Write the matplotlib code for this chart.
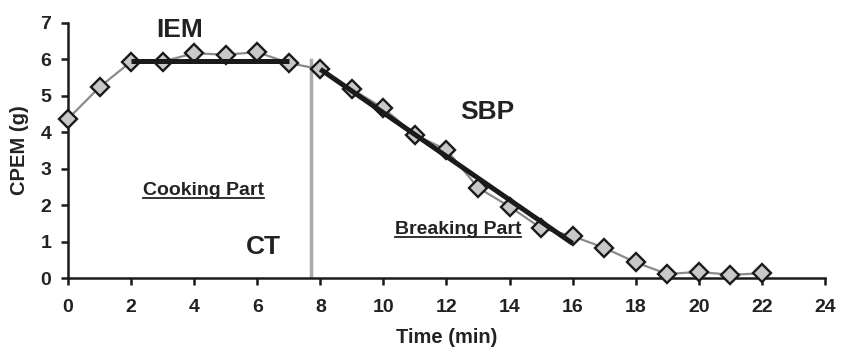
import matplotlib.pyplot as plt

plt.rcParams['font.family'] = ['Liberation Sans', 'DejaVu Sans']
plt.rcParams['font.weight'] = 'bold'

# measured CPEM values
time_min = [0, 1, 2, 3, 4, 5, 6, 7, 8, 9, 10, 11, 12, 13, 14, 15, 16, 17, 18, 19, 20, 21, 22]
cpem_g = [4.37, 5.24, 5.94, 5.94, 6.17, 6.13, 6.20, 5.90, 5.73, 5.18, 4.66, 3.93, 3.52,
          2.48, 1.96, 1.37, 1.15, 0.83, 0.43, 0.11, 0.17, 0.09, 0.13]

# fitted segments
iem_x = [2, 7]
iem_y = [5.96, 5.96]
sbp_x = [8, 16]
sbp_y = [5.73, 0.95]

# cooking time separator
ct_x = 7.7
ct_top = 5.99

fig = plt.figure(figsize=(8.47, 3.48), dpi=100)
ax = fig.add_axes([0.0803, 0.201, 0.8937, 0.733])

ax.plot(time_min, cpem_g, color='#8a8a8a', linewidth=1.6, marker='D', markersize=9,
        markerfacecolor='#c8c8c8', markeredgecolor='#1a1a1a', markeredgewidth=1.7,
        clip_on=False, zorder=3)
ax.plot(iem_x, iem_y, color='#1a1a1a', linewidth=3.6, zorder=4, solid_capstyle='butt')
ax.plot(sbp_x, sbp_y, color='#1a1a1a', linewidth=3.6, zorder=4, solid_capstyle='butt')
ax.plot([ct_x, ct_x], [0, ct_top], color='#aaaaaa', linewidth=2.5, zorder=2)

txt = '#222222'
ax.text(3.55, 6.82, 'IEM', fontsize=19, fontweight='bold', color=txt, ha='center', va='center')
ax.text(13.28, 4.56, 'SBP', fontsize=19, fontweight='bold', color=txt, ha='center', va='center')
ax.text(6.18, 0.85, 'CT', fontsize=19, fontweight='bold', color=txt, ha='center', va='center')
parts = [ax.text(4.31, 2.29, 'Cooking Part', fontsize=14, fontweight='bold', color=txt,
                 ha='center', va='baseline'),
         ax.text(12.37, 1.20, 'Breaking Part', fontsize=14, fontweight='bold', color=txt,
                 ha='center', va='baseline')]

ax.set_xlim(0, 24)
ax.set_ylim(0, 7)
ax.set_xticks(range(0, 25, 2))
ax.set_yticks(range(0, 8))
ax.set_xlabel('Time (min)', fontsize=14.5, fontweight='bold', color=txt, labelpad=9)
ax.set_ylabel('CPEM (g)', fontsize=14.5, fontweight='bold', color=txt, labelpad=8)

for s in ['top', 'right']:
    ax.spines[s].set_visible(False)
for s in ['left', 'bottom']:
    ax.spines[s].set_linewidth(1.8)
    ax.spines[s].set_color('#1a1a1a')

ax.tick_params(axis='both', direction='out', length=5, width=1.8, colors='#1a1a1a',
               labelsize=14, labelcolor=txt)
ax.tick_params(axis='x', pad=10)
ax.tick_params(axis='y', pad=7)
for lab in ax.get_xticklabels() + ax.get_yticklabels():
    lab.set_fontweight('bold')

# underline the part labels
fig.canvas.draw()
renderer = fig.canvas.get_renderer()
inv = ax.transData.inverted()
for t in parts:
    bb = t.get_window_extent(renderer)
    x0, _ = inv.transform((bb.x0, 0))
    x1, _ = inv.transform((bb.x1, 0))
    _, yb = ax.transData.transform((0, t.get_position()[1]))
    _, yu = inv.transform((0, yb - 3))
    ax.plot([x0, x1], [yu, yu], color=txt, linewidth=1.3, zorder=2)

fig.savefig('out.png', dpi=100)
